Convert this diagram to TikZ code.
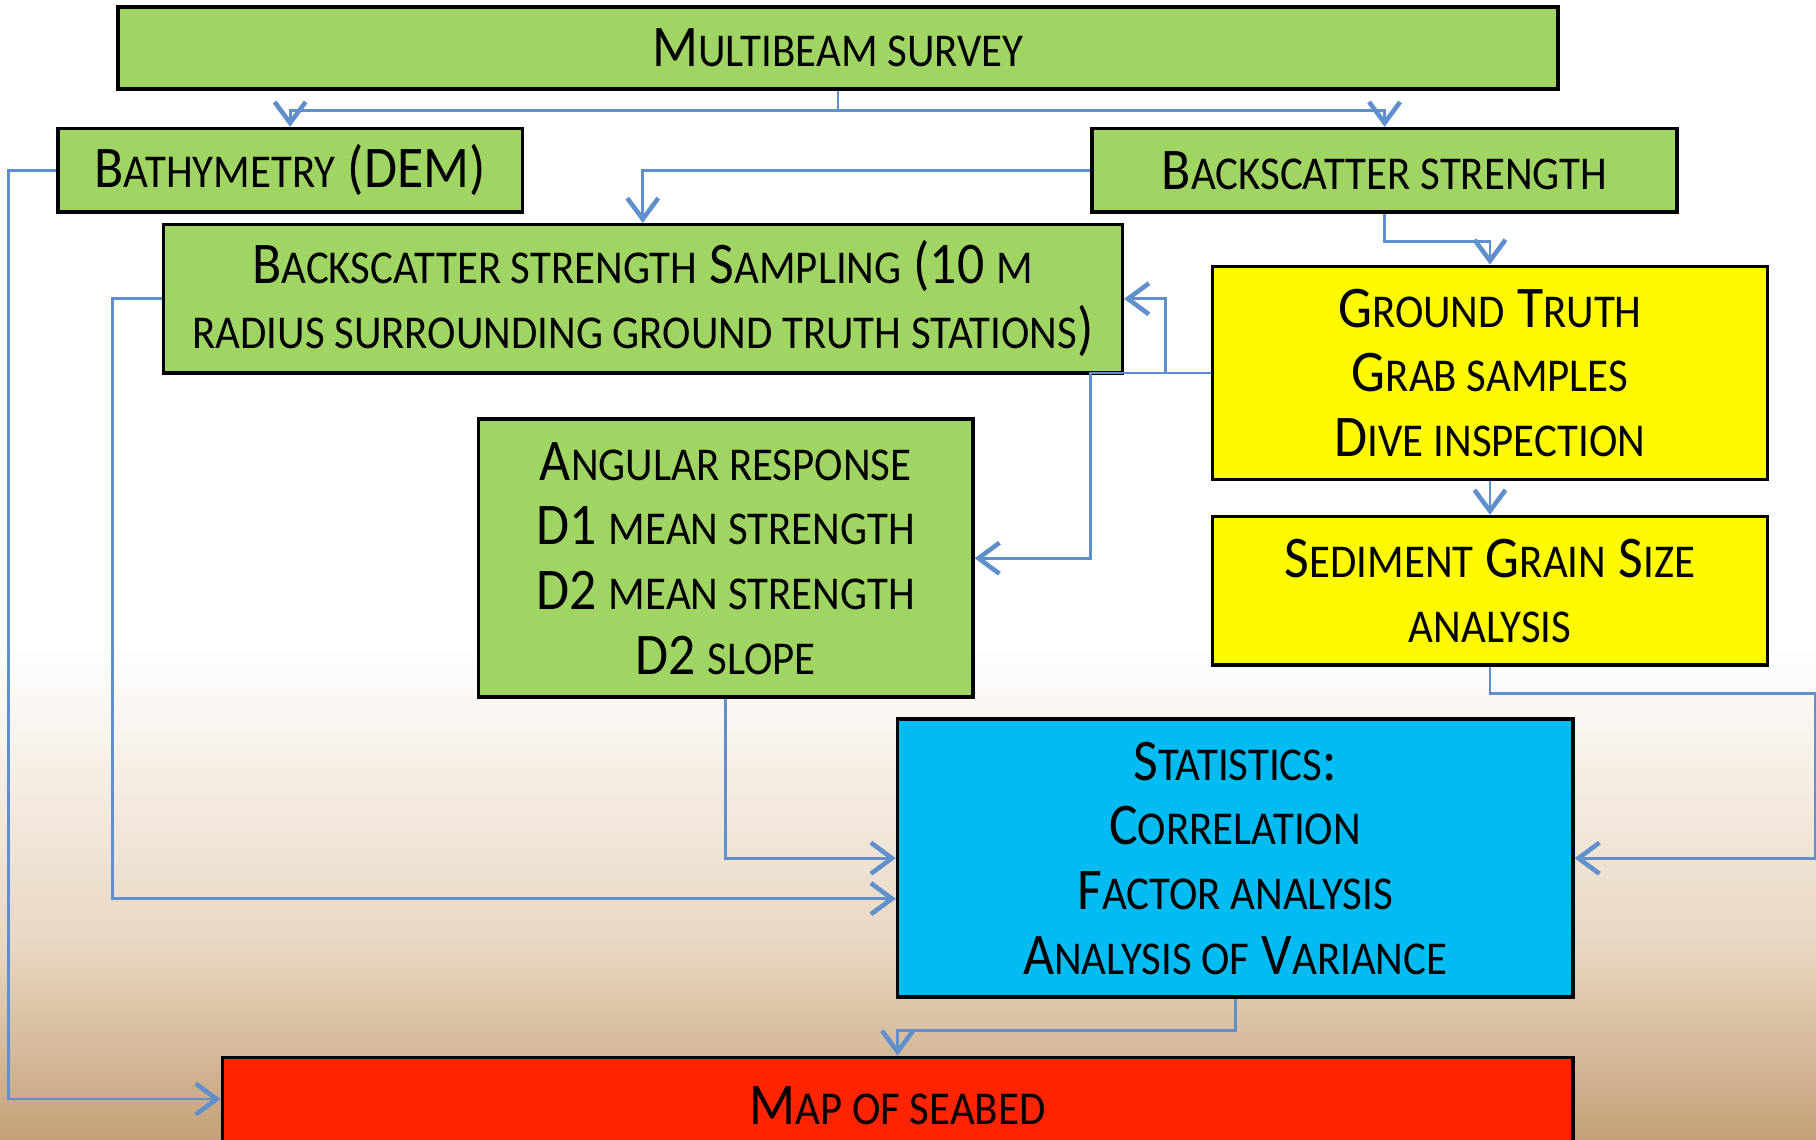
\documentclass[tikz,border=0pt]{standalone}
\usepackage{fontspec}
\setmainfont[FakeStretch=0.91]{Carlito}
\usetikzlibrary{arrows.meta}
\definecolor{boxgreen}{RGB}{161,213,99}
\definecolor{boxyellow}{RGB}{255,250,0}
\definecolor{boxblue}{RGB}{0,188,242}
\definecolor{boxred}{RGB}{255,36,0}
\definecolor{linkblue}{RGB}{95,143,204}
\definecolor{seabed}{RGB}{196,160,120}
\definecolor{sand}{RGB}{232,214,192}
\newcommand{\smc}[1]{{\fontsize{13.4}{18}\selectfont #1}}
\tikzset{
  box/.style={draw=black, line width=1pt, inner sep=0pt, align=center,
    font=\fontsize{16.8}{18.4}\selectfont},
  link/.style={draw=linkblue, line width=0.8pt,
    -{Straight Barb[length=2.1mm,width=3.1mm,line width=1.3pt]}},
}
\begin{document}
\begin{tikzpicture}[x=0.011582cm, y=-0.011582cm]
    \clip (0,0) rectangle (1568,984);
    \fill [white] (0,0) rectangle (1568,560);
    \shade [top color=white, bottom color=sand] (0,559) rectangle (1568,820);
    \shade [top color=sand, bottom color=seabed] (0,819) rectangle (1568,984);
    \node [box, fill=boxgreen, minimum width=14.396cm, minimum height=0.822cm] (survey) at (723.5,41.5) {M\smc{ULTIBEAM SURVEY}};
    \node [box, fill=boxgreen, minimum width=4.644cm, minimum height=0.834cm] (bathy) at (250.5,147) {B\smc{ATHYMETRY} (DEM)};
    \node [box, fill=boxgreen, minimum width=5.849cm, minimum height=0.834cm] (backscatter) at (1195.5,147) {B\smc{ACKSCATTER STRENGTH}};
    \node [box, fill=boxgreen, minimum width=9.590cm, minimum height=1.482cm] (sampling) at (555,258) {B\smc{ACKSCATTER STRENGTH} S\smc{AMPLING} (10 \smc{M}\\ \smc{RADIUS SURROUNDING GROUND TRUTH STATIONS})};
    \node [box, fill=boxyellow, minimum width=5.548cm, minimum height=2.131cm] (truth) at (1286.5,322) {G\smc{ROUND} T\smc{RUTH}\\ G\smc{RAB SAMPLES}\\ D\smc{IVE INSPECTION}};
    \node [box, fill=boxgreen, minimum width=4.945cm, minimum height=2.780cm] (angular) at (626.5,482) {A\smc{NGULAR RESPONSE}\\ D1 \smc{MEAN STRENGTH}\\ D2 \smc{MEAN STRENGTH}\\ D2 \smc{SLOPE}};
    \node [box, fill=boxyellow, minimum width=5.548cm, minimum height=1.482cm] (grain) at (1286.5,510) {S\smc{EDIMENT} G\smc{RAIN} S\smc{IZE}\\ \smc{ANALYSIS}};
    \node [box, fill=boxblue, minimum width=6.752cm, minimum height=2.780cm] (stats) at (1066.5,741) {S\smc{TATISTICS}:\\ C\smc{ORRELATION}\\ F\smc{ACTOR ANALYSIS}\\ A\smc{NALYSIS OF} V\smc{ARIANCE}};
    \node [box, fill=boxred, minimum width=13.505cm, minimum height=0.973cm] (map) at (775,955) {M\smc{AP OF SEABED}};
    \draw [link] (survey.south) -- ++(0,17) -| (bathy.north);
    \draw [link] (survey.south) -- ++(0,17) -| (backscatter.north);
    \draw [link] (backscatter.west) -| (sampling.north);
    \draw [link] (backscatter.south) -- ++(0,24) -| (truth.north);
    \draw [link] (truth.west) -- ++(-39,0) |- (sampling.east);
    \draw [link] (truth.west) -- ++(-104,0) |- (angular.east);
    \draw [link] (truth.south) -- (grain.north);
    \draw [link] (grain.south) -- ++(0,23) -- ++(281,0) |- (stats.east);
    \draw [link] (angular.south) |- (stats.west);
    \draw [link] (sampling.west) -- ++(-42,0) |- ([yshift=-0.405cm]stats.west);
    \draw [link] (bathy.west) -- ++(-41,0) |- ([yshift=0.07cm]map.west);
    \draw [link] (stats.south) -- ++(0,27) -| (map.north);
  \end{tikzpicture}
\end{document}
